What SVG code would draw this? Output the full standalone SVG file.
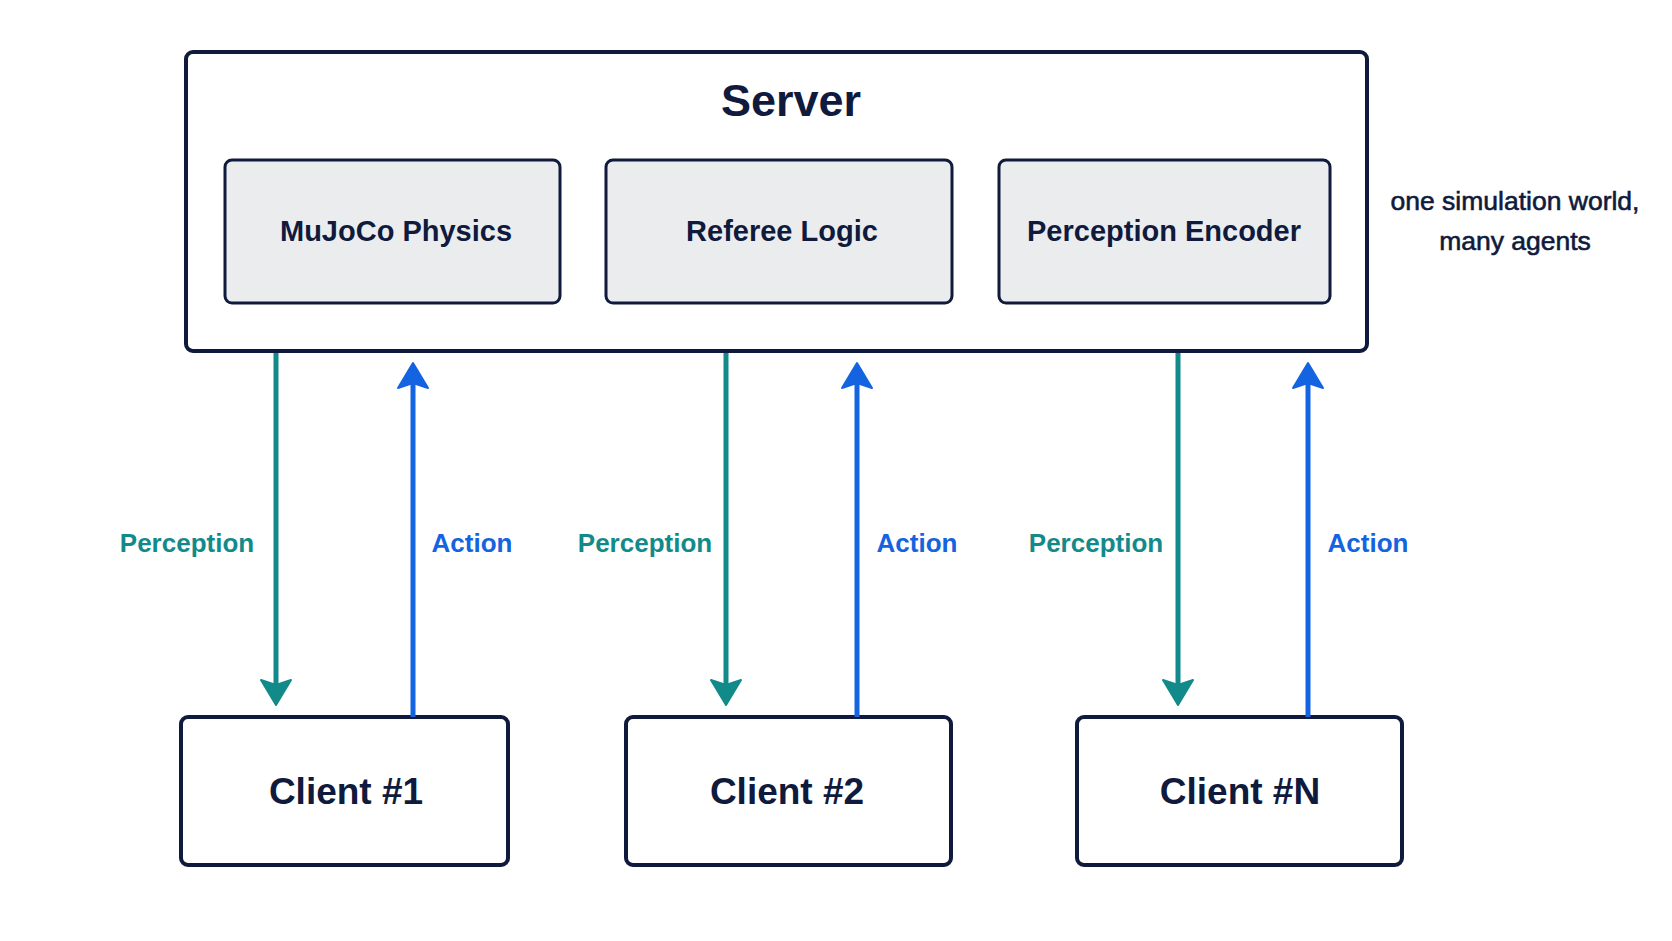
<svg xmlns="http://www.w3.org/2000/svg" width="1672" height="941" viewBox="0 0 1672 941">
<defs>
<style>
.box{fill:#ffffff;stroke:#0f1a3c;stroke-width:4}
.sub{fill:#ebecee;stroke:#0f1a3c;stroke-width:3}
.t{font-family:"Liberation Sans",Arial,sans-serif;fill:#0f1a3c;text-anchor:middle}
.title{font-size:45px;font-weight:bold}
.lbl{font-size:29px;font-weight:bold}
.cl{font-size:37px;font-weight:bold}
.note{font-size:26.5px;stroke:#0f1a3c;stroke-width:0.6}
.perc{stroke:#138a8a;stroke-width:5;fill:none}
.act{stroke:#1463e0;stroke-width:5;fill:none}
.pl{font-family:"Liberation Sans",Arial,sans-serif;font-size:26px;font-weight:bold;text-anchor:middle;fill:#138a8a}
.al{font-family:"Liberation Sans",Arial,sans-serif;font-size:26px;font-weight:bold;text-anchor:middle;fill:#1463e0}
</style>
<marker id="hp" markerUnits="userSpaceOnUse" markerWidth="40" markerHeight="40" viewBox="-10 -20 40 40" refX="0" refY="0" orient="auto">
<path d="M20,0 L-5,-15 L0,0 L-5,15 Z" fill="#138a8a" stroke="#138a8a" stroke-width="2" stroke-linejoin="round"/>
</marker>
<marker id="ha" markerUnits="userSpaceOnUse" markerWidth="40" markerHeight="40" viewBox="-10 -20 40 40" refX="0" refY="0" orient="auto">
<path d="M20,0 L-5,-15 L0,0 L-5,15 Z" fill="#1463e0" stroke="#1463e0" stroke-width="2" stroke-linejoin="round"/>
</marker>
</defs>
<rect width="1672" height="941" fill="#ffffff"/>
<g id="server">
<rect class="box" x="186" y="52" width="1181" height="299" rx="7"/>
<text class="t title" x="791" y="116">Server</text>
</g>
<g id="mujoco">
<rect class="sub" x="225" y="160" width="335" height="143" rx="7"/>
<text class="t lbl" x="396" y="241">MuJoCo Physics</text>
</g>
<g id="referee">
<rect class="sub" x="606" y="160" width="346" height="143" rx="7"/>
<text class="t lbl" x="782" y="241">Referee Logic</text>
</g>
<g id="encoder">
<rect class="sub" x="999" y="160" width="331" height="143" rx="7"/>
<text class="t lbl" x="1164" y="241">Perception Encoder</text>
</g>
<g id="note">
<text class="t note" x="1515" y="210">one simulation world,</text>
<text class="t note" x="1515" y="250">many agents</text>
</g>
<g id="client1">
<rect class="box" x="181" y="717" width="327" height="148" rx="7"/>
<text class="t cl" x="346" y="804">Client #1</text>
</g>
<g id="client2">
<rect class="box" x="626" y="717" width="325" height="148" rx="7"/>
<text class="t cl" x="787" y="804">Client #2</text>
</g>
<g id="clientN">
<rect class="box" x="1077" y="717" width="325" height="148" rx="7"/>
<text class="t cl" x="1240" y="804">Client #N</text>
</g>
<g id="connectors">
<path class="perc" d="M276,353 L276,685" marker-end="url(#hp)"/>
<path class="act" d="M413,717 L413,383" marker-end="url(#ha)"/>
<path class="perc" d="M726,353 L726,685" marker-end="url(#hp)"/>
<path class="act" d="M857,717 L857,383" marker-end="url(#ha)"/>
<path class="perc" d="M1178,353 L1178,685" marker-end="url(#hp)"/>
<path class="act" d="M1308,717 L1308,383" marker-end="url(#ha)"/>
<text class="pl" x="187" y="552">Perception</text>
<text class="al" x="472" y="552">Action</text>
<text class="pl" x="645" y="552">Perception</text>
<text class="al" x="917" y="552">Action</text>
<text class="pl" x="1096" y="552">Perception</text>
<text class="al" x="1368" y="552">Action</text>
</g>
</svg>
